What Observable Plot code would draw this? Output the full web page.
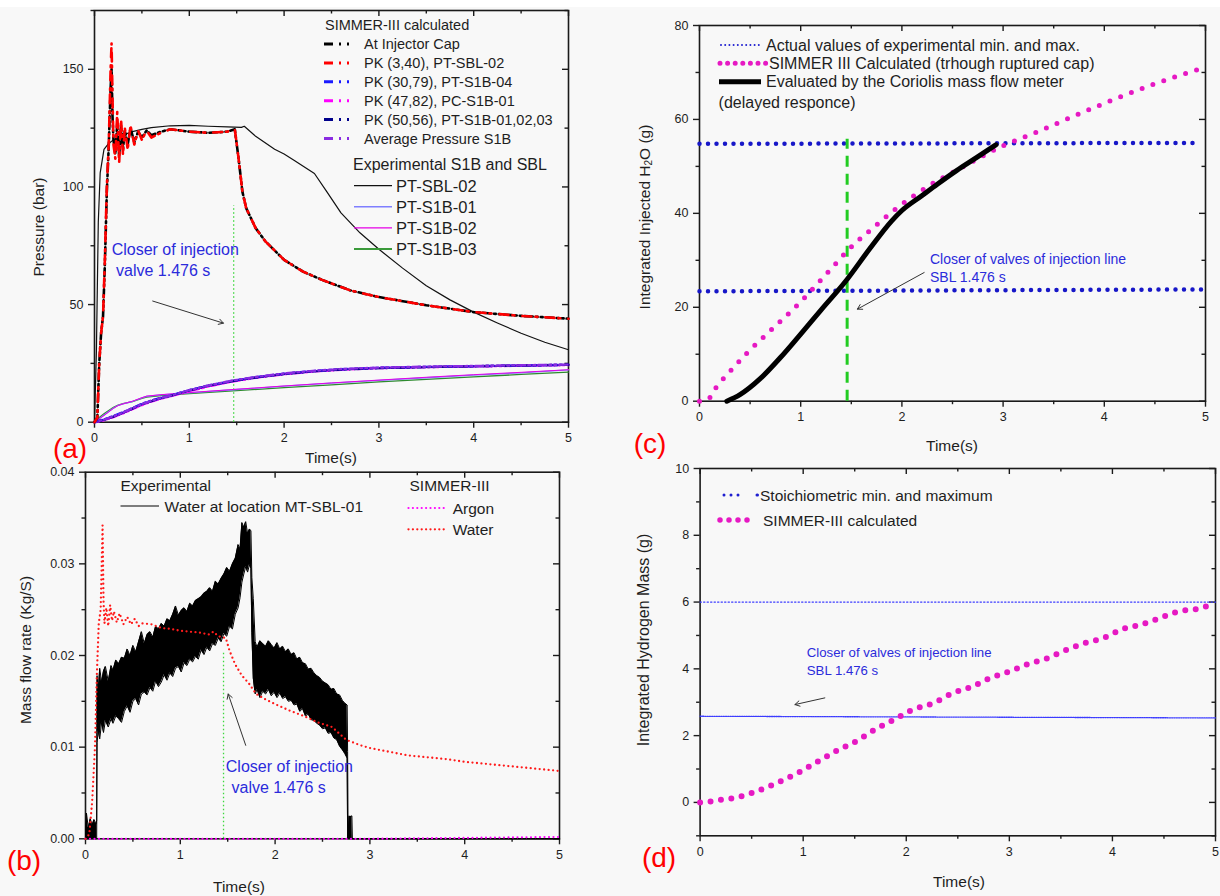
<!DOCTYPE html>
<html><head><meta charset="utf-8">
<script src="https://cdn.jsdelivr.net/npm/d3@7"></script>
<script src="https://cdn.jsdelivr.net/npm/@observablehq/plot@0.6"></script>
<style>
html,body{margin:0;padding:0;background:#f8f8f8;}
#fig{position:relative;width:1220px;height:896px;background:#f8f8f8;overflow:hidden;}
#topstrip{position:absolute;left:0;top:0;width:1220px;height:7px;background:#ffffff;}
#overlay{position:absolute;left:0;top:0;pointer-events:none;}
</style></head><body><div id="fig"><div id="topstrip"></div></div>
<script>
// ================= DATA =================
// ---- Panel (a): pressure (bar) vs time (s)
const tExpSBL = [0,0.02,0.04,0.06,0.08,0.1,0.15,0.2,0.3,0.4,0.5,0.6,0.8,1.0,1.2,1.4,1.55,1.58,1.7,1.9,2.0,2.1,2.32,2.45,2.6,2.8,3.0,3.25,3.5,3.75,4.0,4.25,4.5,4.75,5.0];
const ptSBL02 = [0,30,85,106,111,116,118.5,120,122,123.5,124.5,125.2,126,126.2,125.8,125.5,125.3,125.8,121.5,116,114,111.5,105.7,98,89,80.5,73.5,65.5,58,52,46.8,42.2,37.8,34,30.8];
const tSimHi = [0,0.03,0.05,0.07,0.09,0.11,0.13,0.15,0.17,0.18,0.19,0.2,0.22,0.24,0.26,0.28,0.3,0.32,0.35,0.38,0.42,0.46,0.5,0.55,0.6,0.7,0.8,0.9,1.0,1.2,1.4,1.48,1.52,1.56,1.6,1.7,1.8,2.0,2.2,2.4,2.7,3.0,3.5,4.0,4.5,5.0];
const pk340 = [0,2,25,38,45,70,100,118,150,161,138,118,112,132,110,129,114,125,116,126,118,124,120,124,121,123,124.5,124,123.5,123,123.5,124.5,112,98,91,82.5,77,69,64,60.5,56,53.2,49.7,46.8,45.2,44];
const injectorCap = [0,2,25,38,45,68,98,117,142,150,130,120,114,127,113,126,116,124,118,125,119,123.5,121,124,122,123.5,124.5,124,123.5,123,123.5,124.5,112,98,91,82.5,77,69,64,60.5,56,53.2,49.7,46.8,45.2,44];
const tExpLo = [0,0.05,0.1,0.15,0.2,0.25,0.3,0.4,0.5,0.55,0.7,1.0,1.5,2.0,2.5,3.0,3.5,4.0,4.5,5.0];
const ptS1B01 = [0,1.5,3,4.5,6,7.2,7.8,8.8,10.3,11,11.6,12.5,13.9,15.3,16.6,17.8,18.9,20,21,22.2];
const ptS1B02 = [0,1.4,2.9,4.4,5.9,7.1,7.8,8.9,10.4,11.1,11.7,12.6,14,15.4,16.7,17.9,19.1,20.2,21.2,22.3];
const ptS1B03 = [0,2,3.6,5,6.3,7.3,7.9,8.7,10.1,10.7,11.3,12.2,13.4,14.7,15.9,17.1,18.2,19.3,20.3,21.3];
const tSimLo = [0,0.1,0.2,0.3,0.4,0.5,0.6,0.7,0.8,1.0,1.2,1.47,1.7,2.0,2.3,2.6,3.0,3.5,4.0,4.5,5.0];
const pk3079 = [0,1.2,2.6,4.2,6,7.8,9.2,10.3,11.3,13.6,15.6,17.7,19.1,20.6,21.7,22.5,23.1,23.5,23.8,24.1,24.4];
const pk4782 = [0,0.8,2.2,3.8,5.5,7.3,8.8,10,11,13.2,15.2,17.4,18.9,20.4,21.5,22.3,23,23.4,23.7,24,24.3];
const pk5056 = [0,1,2.4,4,5.8,7.6,9,10.2,11.2,13.5,15.5,17.6,19,20.5,21.6,22.4,23,23.4,23.8,24.1,24.4];
const avgS1B = [0,1.1,2.5,4.1,5.9,7.7,9.1,10.3,11.3,13.6,15.6,17.8,19.2,20.7,21.8,22.6,23.2,23.6,23.9,24.2,24.5];
const valveA = [{t:1.468, y1:0, y2:92}];
const arrowA = [{x1:0.614, y1:51.5, x2:1.36, y2:42.1}];
const legendCalcA = ["At Injector Cap","PK (3,40), PT-SBL-02","PK (30,79), PT-S1B-04","PK (47,82), PC-S1B-01","PK (50,56), PT-S1B-01,02,03","Average Pressure S1B"];
const legendExpA = ["PT-SBL-02","PT-S1B-01","PT-S1B-02","PT-S1B-03"];

// ---- Panel (b): mass flow rate (kg/s)
// experimental water flow, noisy signal kept as [time, lower envelope, upper envelope]
const waterExpBand = [
 [0,0,0],[0.01,0,0.0028],[0.03,0,0.0012],[0.05,0,0.0022],[0.07,0,0.0015],[0.09,0,0.0021],[0.11,0,0.0016],[0.118,0,0.002],
 [0.122,0.0105,0.0178],[0.135,0.0118,0.0162],[0.15,0.0109,0.0186],[0.17,0.0127,0.0171],[0.19,0.0116,0.0183],[0.21,0.0129,0.0188],
 [0.24,0.0122,0.0172],[0.27,0.0131,0.0189],[0.29,0.0126,0.0184],[0.32,0.0134,0.0195],[0.35,0.0131,0.0191],[0.38,0.0127,0.0198],
 [0.41,0.0139,0.0197],[0.44,0.0145,0.0207],[0.47,0.0138,0.02],[0.5,0.015,0.0211],[0.53,0.0153,0.0204],[0.56,0.0146,0.0215],
 [0.59,0.0158,0.0226],[0.62,0.016,0.0213],[0.65,0.0157,0.0223],[0.68,0.0165,0.0226],[0.71,0.0161,0.022],[0.74,0.0172,0.0232],
 [0.77,0.0166,0.0229],[0.8,0.0171,0.0235],[0.83,0.0179,0.0232],[0.86,0.0173,0.024],[0.89,0.0181,0.0238],[0.92,0.0177,0.0245],
 [0.95,0.0186,0.0254],[0.98,0.0188,0.0244],[1.01,0.0182,0.0249],[1.04,0.0192,0.0252],[1.07,0.0189,0.0248],[1.1,0.0196,0.0257],
 [1.13,0.0193,0.0254],[1.16,0.0199,0.026],[1.19,0.0196,0.0262],[1.22,0.0206,0.0264],[1.25,0.0201,0.0268],[1.28,0.0209,0.027],
 [1.31,0.0205,0.0274],[1.34,0.0213,0.027],[1.37,0.0211,0.0281],[1.4,0.0219,0.0278],[1.43,0.0215,0.0284],[1.46,0.0224,0.0289],
 [1.49,0.0221,0.0296],[1.52,0.0232,0.0292],[1.55,0.0229,0.03],[1.58,0.0245,0.0306],[1.61,0.0252,0.0321],[1.63,0.0263,0.0316],
 [1.65,0.028,0.0345],[1.67,0.0289,0.034],[1.69,0.0297,0.0346],[1.71,0.0291,0.0333],[1.73,0.0299,0.0338],[1.745,0.0295,0.0336],
 [1.755,0.0225,0.0285],[1.77,0.0175,0.0262],[1.79,0.0158,0.0215],[1.81,0.0163,0.0209],[1.84,0.0154,0.0216],[1.87,0.0161,0.0213],
 [1.9,0.0158,0.021],[1.93,0.0163,0.0216],[1.96,0.0156,0.0212],[1.99,0.016,0.0208],[2.02,0.0154,0.0214],[2.05,0.0159,0.0207],
 [2.08,0.0153,0.021],[2.11,0.0155,0.0204],[2.14,0.015,0.0207],[2.17,0.0151,0.0201],[2.2,0.0146,0.0203],[2.23,0.0147,0.0196],
 [2.26,0.0139,0.0198],[2.29,0.0142,0.0192],[2.32,0.0134,0.0191],[2.35,0.0136,0.0185],[2.38,0.013,0.0186],[2.41,0.0129,0.0181],
 [2.44,0.0126,0.0178],[2.47,0.0124,0.0176],[2.5,0.012,0.0172],[2.53,0.0121,0.017],[2.56,0.0115,0.0168],[2.59,0.0116,0.0163],
 [2.62,0.011,0.0164],[2.65,0.0108,0.0158],[2.68,0.0101,0.0157],[2.71,0.0097,0.0151],[2.735,0.0093,0.0148],[2.76,0.0088,0.0146],
 [2.765,0,0.0095],[2.77,0,0],[2.78,0,0.0025],[2.79,0,0.0024],[2.81,0,0.0025],[2.815,0,0],[5,0,0]];
const tWater = [0,0.04,0.07,0.1,0.12,0.14,0.16,0.18,0.19,0.2,0.22,0.24,0.26,0.28,0.3,0.33,0.36,0.4,0.44,0.48,0.52,0.56,0.6,0.7,0.8,0.9,1.0,1.1,1.2,1.3,1.35,1.4,1.48,1.52,1.58,1.65,1.72,1.8,1.9,2.0,2.15,2.3,2.45,2.6,2.75,2.9,3.0,3.2,3.4,3.6,3.8,4.0,4.2,4.4,4.6,4.8,5.0];
const waterSim = [0,0.0005,0.004,0.01,0.018,0.0235,0.025,0.0342,0.026,0.0235,0.0252,0.0232,0.0255,0.0238,0.0248,0.0236,0.0246,0.0234,0.0242,0.0234,0.024,0.0232,0.0235,0.0234,0.023,0.0229,0.0227,0.0226,0.0225,0.0223,0.0226,0.0221,0.0219,0.0205,0.019,0.0178,0.017,0.0158,0.0152,0.0147,0.014,0.0134,0.0127,0.0122,0.0108,0.0102,0.0099,0.0095,0.0091,0.0089,0.0087,0.0084,0.0082,0.008,0.0078,0.0076,0.0074];
const tArgon = [0,0.12,1,2,3,4,5];
const argonSim = [0,0,0,0,0,0.0001,0.0002];
const valveB = [{t:1.456, y1:0, y2:0.0205}];
const arrowB = [{x1:1.69, y1:0.0102, x2:1.505, y2:0.0158}];
const legendB = {exp:"Water at location MT-SBL-01", sim:["Argon","Water"]};

// ---- Panel (c): integrated injected water (g)
const tCalcC = [0,0.08,0.16,0.3,0.48,0.69,1.0,1.14,1.33,1.47,1.72,1.96,2.27,2.62,3.0,3.32,3.71,4.1,4.49,5.0];
const h2oSim = [0,0.3,2.8,6.3,10.5,14.8,21.2,24.4,28.9,32.2,37,41.3,45.9,50.1,54.4,57.2,60.8,64.3,67.5,71.1];
const tCoriolis = [0.27,0.4,0.6,0.8,1.0,1.2,1.45,1.68,1.9,2.0,2.2,2.35,2.54,2.74,2.93];
const h2oCoriolis = [0,1.4,4.8,9.3,14.3,19.4,25.7,32.4,38.4,40.6,43.8,46.2,49.1,51.9,54.6];
const expMaxC = [{t:0, v:54.8},{t:4.9, v:55.0}];
const expMinC = [{t:0, v:23.4},{t:5.0, v:23.8}];
const valveC = [{t:1.459, y1:0, y2:55.8}];
const arrowC = [{x1:2.22, y1:27.4, x2:1.56, y2:19.6}];
const legendC = ["Actual values of experimental min. and max.","SIMMER III Calculated (trhough ruptured cap)","Evaluated by the Coriolis mass flow meter","(delayed responce)"];

// ---- Panel (d): integrated hydrogen mass (g)
const tH2 = [0,0.1,0.18,0.36,0.51,0.66,0.82,0.97,1.14,1.34,1.52,1.70,1.89,2.06,2.26,2.45,2.64,2.81,3.0,3.18,3.37,3.54,3.71,3.91,4.1,4.27,4.46,4.64,4.83,4.92];
const h2Sim = [0,0.03,0.07,0.15,0.29,0.47,0.69,0.92,1.22,1.57,1.84,2.19,2.49,2.77,2.97,3.27,3.47,3.72,3.92,4.14,4.32,4.55,4.75,4.92,5.19,5.32,5.52,5.72,5.8,5.88];
const stoichMax = [{t:0, v:6.0},{t:5, v:6.0}];
const stoichMin = [{t:0, v:2.58},{t:5, v:2.53}];
const arrowD = [{x1:1.21, y1:3.13, x2:0.92, y2:2.93}];
const legendD = ["Stoichiometric min. and maximum","SIMMER-III calculated"];

const timeTicks = [0,1,2,3,4,5];
const timeMinor = [0.5,1.5,2.5,3.5,4.5];

// ================= DRAWING =================
const FONT = '"Liberation Sans", Arial, Helvetica, sans-serif';
const ANN = "#2b2bdb";
const rows = (t, v) => t.map((x, i) => ({t: x, v: v[i]}));
const fig = document.getElementById("fig");

// axes: outward ticks on bottom/left, inward mirrored ticks on top/right (Origin style)
function axes(o) {
  const b = {label: null, strokeWidth: 1.4};
  const none = () => "";
  const [y0, y1] = o.yDomain;
  const pw = o.width - o.ml - o.mr, ph = o.height - o.mt - o.mb;
  const kx = 5 / pw, ky = (y1 - y0) / ph;   // data units per pixel
  const tickStyle = {stroke: "#1a1a1a", strokeWidth: 1.4};
  return [
    Plot.axisX({...b, ticks: timeTicks, anchor: "bottom", tickSize: 6, tickPadding: 5, tickFormat: d => String(d)}),
    Plot.axisX({...b, ticks: timeMinor, anchor: "bottom", tickSize: 3.5, tickFormat: none}),
    Plot.axisY({...b, ticks: o.yTicks, anchor: "left", tickSize: 6, tickPadding: 5, tickFormat: o.fmt}),
    Plot.axisY({...b, ticks: o.yMinor, anchor: "left", tickSize: 3.5, tickFormat: none}),
    Plot.ruleX(timeTicks, {x: d => d, y1: y1, y2: y1 - 6 * ky, ...tickStyle}),
    Plot.ruleX(timeMinor, {x: d => d, y1: y1, y2: y1 - 3.5 * ky, ...tickStyle}),
    Plot.ruleY(o.yTicks, {y: d => d, x1: 5, x2: 5 - 6 * kx, ...tickStyle}),
    Plot.ruleY(o.yMinor, {y: d => d, x1: 5, x2: 5 - 3.5 * kx, ...tickStyle}),
    Plot.frame({stroke: "#1a1a1a", strokeWidth: 1.6})
  ];
}
const style = {background: "transparent", fontFamily: FONT, fontSize: "12.5px", color: "#1e1e1e", overflow: "visible"};
function place(svg, left, top) {
  svg.style.position = "absolute"; svg.style.left = left + "px"; svg.style.top = top + "px";
  fig.appendChild(svg);
}
const dd = {strokeLinecap: "round"};
const DASHDOT = "8,3,2,3,2,3";

// Panel (a)
const LA = {width: 600, height: 470, ml: 94, mr: 32, mt: 10, mb: 48.3, yDomain: [0, 175]};
place(Plot.plot({
  width: LA.width, height: LA.height, marginLeft: LA.ml, marginRight: LA.mr, marginTop: LA.mt, marginBottom: LA.mb,
  x: {domain: [0, 5]}, y: {domain: LA.yDomain}, style,
  marks: [
    ...axes({...LA, yTicks: [0,50,100,150], yMinor: [25,75,125,175], fmt: d => String(d)}),
    Plot.ruleX(valveA, {x: "t", y1: "y1", y2: "y2", stroke: "#3fd83f", strokeWidth: 1.3, strokeDasharray: "1.5,2.5"}),
    Plot.arrow(arrowA, {x1: "x1", y1: "y1", x2: "x2", y2: "y2", stroke: "#333", strokeWidth: 1, headLength: 8}),
    Plot.line(rows(tExpLo, ptS1B03), {x: "t", y: "v", stroke: "#2e8b2e", strokeWidth: 1.3}),
    Plot.line(rows(tExpLo, ptS1B01), {x: "t", y: "v", stroke: "#7f7fff", strokeWidth: 1.3}),
    Plot.line(rows(tExpLo, ptS1B02), {x: "t", y: "v", stroke: "#e600e6", strokeWidth: 1}),
    Plot.line(rows(tSimLo, pk4782), {x: "t", y: "v", stroke: "#ff00ff", strokeWidth: 2.4, strokeDasharray: DASHDOT, strokeDashoffset: 3}),
    Plot.line(rows(tSimLo, pk3079), {x: "t", y: "v", stroke: "#1a1aff", strokeWidth: 2.4, strokeDasharray: DASHDOT}),
    Plot.line(rows(tSimLo, pk5056), {x: "t", y: "v", stroke: "#00008b", strokeWidth: 2.4, strokeDasharray: DASHDOT, strokeDashoffset: 6}),
    Plot.line(rows(tSimLo, avgS1B), {x: "t", y: "v", stroke: "#8a2be2", strokeWidth: 2.4, strokeDasharray: DASHDOT, strokeDashoffset: 11}),
    Plot.line(rows(tExpSBL, ptSBL02), {x: "t", y: "v", stroke: "#111", strokeWidth: 1.2}),
    Plot.line(rows(tSimHi, injectorCap), {x: "t", y: "v", stroke: "#000", strokeWidth: 2.6, strokeDasharray: DASHDOT}),
    Plot.line(rows(tSimHi, pk340), {x: "t", y: "v", stroke: "#ff0000", strokeWidth: 2.6, strokeDasharray: "9,4,2,8", strokeDashoffset: 2})
  ]
}), 0, 0);

// Panel (b)
const LB = {width: 600, height: 434, ml: 85, mr: 41, mt: 9.7, mb: 57.7, yDomain: [0, 0.04]};
place(Plot.plot({
  width: LB.width, height: LB.height, marginLeft: LB.ml, marginRight: LB.mr, marginTop: LB.mt, marginBottom: LB.mb,
  x: {domain: [0, 5]}, y: {domain: LB.yDomain}, style,
  marks: [
    ...axes({...LB, yTicks: [0,0.01,0.02,0.03,0.04], yMinor: [0.005,0.015,0.025,0.035], fmt: d3.format(".2f")}),
    Plot.ruleX(valveB, {x: "t", y1: "y1", y2: "y2", stroke: "#3fd83f", strokeWidth: 1.3, strokeDasharray: "1.5,2.5"}),
    Plot.areaY(waterExpBand, {x: d => d[0], y1: d => d[1], y2: d => d[2], fill: "#000"}),
    Plot.line(waterExpBand, {x: d => d[0], y: d => d[2], stroke: "#000", strokeWidth: 1}),
    Plot.line(waterExpBand, {x: d => d[0], y: d => d[1], stroke: "#000", strokeWidth: 1}),
    Plot.line(rows(tArgon, argonSim), {x: "t", y: "v", stroke: "#ff00ff", strokeWidth: 2.2, strokeDasharray: "0,4.5", ...dd}),
    Plot.line(rows(tWater, waterSim), {x: "t", y: "v", stroke: "#ff1a1a", strokeWidth: 2.3, strokeDasharray: "0,4.5", ...dd}),
    Plot.arrow(arrowB, {x1: "x1", y1: "y1", x2: "x2", y2: "y2", stroke: "#333", strokeWidth: 1, headLength: 8})
  ]
}), 0, 462);

// Panel (c)
const LC = {width: 620, height: 470, ml: 99, mr: 15, mt: 25, mb: 69.3, yDomain: [0, 80]};
place(Plot.plot({
  width: LC.width, height: LC.height, marginLeft: LC.ml, marginRight: LC.mr, marginTop: LC.mt, marginBottom: LC.mb,
  x: {domain: [0, 5]}, y: {domain: LC.yDomain}, style,
  marks: [
    ...axes({...LC, yTicks: [0,20,40,60,80], yMinor: [10,30,50,70], fmt: d => String(d)}),
    Plot.line(expMaxC, {x: "t", y: "v", stroke: "#1717c8", strokeWidth: 4.5, strokeDasharray: "0,8.5", ...dd}),
    Plot.line(expMinC, {x: "t", y: "v", stroke: "#1717c8", strokeWidth: 4.5, strokeDasharray: "0,8.5", ...dd}),
    Plot.ruleX(valveC, {x: "t", y1: "y1", y2: "y2", stroke: "#22cc22", strokeWidth: 3, strokeDasharray: "11,7"}),
    Plot.line(rows(tCalcC, h2oSim), {x: "t", y: "v", stroke: "#e619c3", strokeWidth: 5, strokeDasharray: "0,11.5", curve: "monotone-x", ...dd}),
    Plot.line(rows(tCoriolis, h2oCoriolis), {x: "t", y: "v", stroke: "#000", strokeWidth: 5, curve: "monotone-x"}),
    Plot.arrow(arrowC, {x1: "x1", y1: "y1", x2: "x2", y2: "y2", stroke: "#333", strokeWidth: 1, headLength: 8})
  ]
}), 600, 0);

// Panel (d)
const LD = {width: 620, height: 438, ml: 99.6, mr: 5, mt: 10, mb: 60.7, yDomain: [-1, 10]};
place(Plot.plot({
  width: LD.width, height: LD.height, marginLeft: LD.ml, marginRight: LD.mr, marginTop: LD.mt, marginBottom: LD.mb,
  x: {domain: [0, 5]}, y: {domain: LD.yDomain}, style,
  marks: [
    ...axes({...LD, yTicks: [0,2,4,6,8,10], yMinor: [-1,1,3,5,7,9], fmt: d => String(d)}),
    Plot.line(stoichMax, {x: "t", y: "v", stroke: "#3b3bff", strokeWidth: 1.3, strokeDasharray: "1.3,2.2"}),
    Plot.line(stoichMin, {x: "t", y: "v", stroke: "#3b3bff", strokeWidth: 1.3, strokeDasharray: "1.3,1"}),
    Plot.line(rows(tH2, h2Sim), {x: "t", y: "v", stroke: "#e619c3", strokeWidth: 6, strokeDasharray: "0,10.5", curve: "monotone-x", ...dd}),
    Plot.arrow(arrowD, {x1: "x1", y1: "y1", x2: "x2", y2: "y2", stroke: "#333", strokeWidth: 1, headLength: 8})
  ]
}), 600, 458);

// ================= TEXT / LEGENDS OVERLAY =================
const ov = d3.select(fig).append("svg").attr("id", "overlay").attr("width", 1220).attr("height", 896)
  .style("font-family", FONT);
function txt(x, y, s, o = {}) {
  return ov.append("text").attr("x", x).attr("y", y).attr("dominant-baseline", "central")
    .attr("text-anchor", o.anchor || "start").attr("font-size", o.size || 15).attr("fill", o.color || "#1e1e1e").text(s);
}
function vtxt(x, y, s, size) {
  return ov.append("text").attr("transform", `translate(${x},${y}) rotate(-90)`).attr("text-anchor", "middle")
    .attr("dominant-baseline", "central").attr("font-size", size).attr("fill", "#1e1e1e").text(s);
}
function sw(x1, x2, y, stroke, width, dash, cap) {
  ov.append("line").attr("x1", x1).attr("x2", x2).attr("y1", y).attr("y2", y).attr("stroke", stroke)
    .attr("stroke-width", width).attr("stroke-dasharray", dash || null).attr("stroke-linecap", cap || "butt");
}

// axis titles
vtxt(38, 227, "Pressure (bar)", 15.5);
txt(331, 457, "Time(s)", {anchor: "middle", size: 15.5});
vtxt(25, 650, "Mass flow rate (Kg/S)", 15.5);
txt(239, 886, "Time(s)", {anchor: "middle", size: 15.5});
const h2o = ov.append("text").attr("transform", "translate(643.5,217) rotate(-90)").attr("text-anchor", "middle")
  .attr("dominant-baseline", "central").attr("font-size", 15.5).attr("fill", "#1e1e1e");
h2o.append("tspan").text("Integrated Injected H");
h2o.append("tspan").attr("font-size", 10).attr("dy", 4).text("2");
h2o.append("tspan").attr("dy", -4).text("O  (g)");
txt(952, 445, "Time(s)", {anchor: "middle", size: 15.5});
vtxt(643.5, 640, "Integrated Hydrogen Mass  (g)", 16);
txt(959, 881, "Time(s)", {anchor: "middle", size: 15.5});

// panel letters
[["(a)", 70, 448], ["(b)", 24, 860], ["(c)", 650, 443], ["(d)", 659, 857]].forEach(([s, x, y]) =>
  txt(x, y, s, {anchor: "middle", size: 28, color: "#ff0000"}));

// annotations
txt(111.7, 249, "Closer of injection", {size: 16, color: ANN});
txt(116, 270, "valve 1.476 s", {size: 16, color: ANN});
txt(225.8, 766, "Closer of injection", {size: 16, color: ANN});
txt(231.5, 787, "valve 1.476 s", {size: 16, color: ANN});
txt(930, 259.3, "Closer of valves of injection line", {size: 14, color: ANN});
txt(930, 276.7, "SBL 1.476 s", {size: 14, color: ANN});
txt(806.8, 652.3, "Closer of valves of injection line", {size: 13.2, color: ANN});
txt(806.8, 670.7, "SBL 1.476 s", {size: 13.2, color: ANN});

// legend (a)
const calcColors = ["#000", "#ff0000", "#1a1aff", "#ff00ff", "#00008b", "#8a2be2"];
txt(325, 25, "SIMMER-III calculated", {size: 14.5});
legendCalcA.forEach((s, i) => {
  const y = 44 + i * 18.9;
  sw(324, 352, y, calcColors[i], 3, "9,6,2,6,2,20");
  txt(364, y, s, {size: 14.5});
});
const expColors = ["#111", "#7f7fff", "#e600e6", "#3a9a3a"];
const expWidths = [1.2, 1.6, 1.2, 2];
txt(353, 164, "Experimental S1B and SBL", {size: 16});
legendExpA.forEach((s, i) => {
  const y = 185.7 + i * 21.1;
  sw(354, 392, y, expColors[i], expWidths[i]);
  txt(396, y, s, {size: 16.5});
});

// legend (b)
txt(120.5, 485, "Experimental", {size: 15.5});
sw(120.5, 159, 506, "#555", 1.5);
txt(164.6, 506, legendB.exp, {size: 15.5});
txt(409.5, 485, "SIMMER-III", {size: 15.5});
sw(408.5, 446, 508, "#ff00ff", 2.2, "0,4.4", "round");
txt(452.7, 508, legendB.sim[0], {size: 15.5});
sw(408.5, 446, 529.3, "#ff1a1a", 2.3, "0,4.4", "round");
txt(452.7, 529.3, legendB.sim[1], {size: 15.5});

// legend (c)
sw(721, 760, 45, "#1f1fd0", 2, "0,4.2", "round");
txt(766, 45, legendC[0], {size: 16});
sw(720, 766, 63.3, "#e619c3", 5, "0,7.6", "round");
txt(769, 63.3, legendC[1], {size: 16});
sw(719, 761, 81.7, "#000", 5);
txt(766, 81.7, legendC[2], {size: 16});
txt(718.6, 102.7, legendC[3], {size: 16});

// legend (d)
sw(724, 741, 495, "#1f1fd0", 3, "0,7", "round");
sw(757, 757.5, 495, "#1f1fd0", 3, null, "round");
txt(760, 495, legendD[0], {size: 15.5});
sw(720, 756, 520, "#e619c3", 5.5, "0,9", "round");
txt(763, 520, legendD[1], {size: 15.5});
</script></body></html>
